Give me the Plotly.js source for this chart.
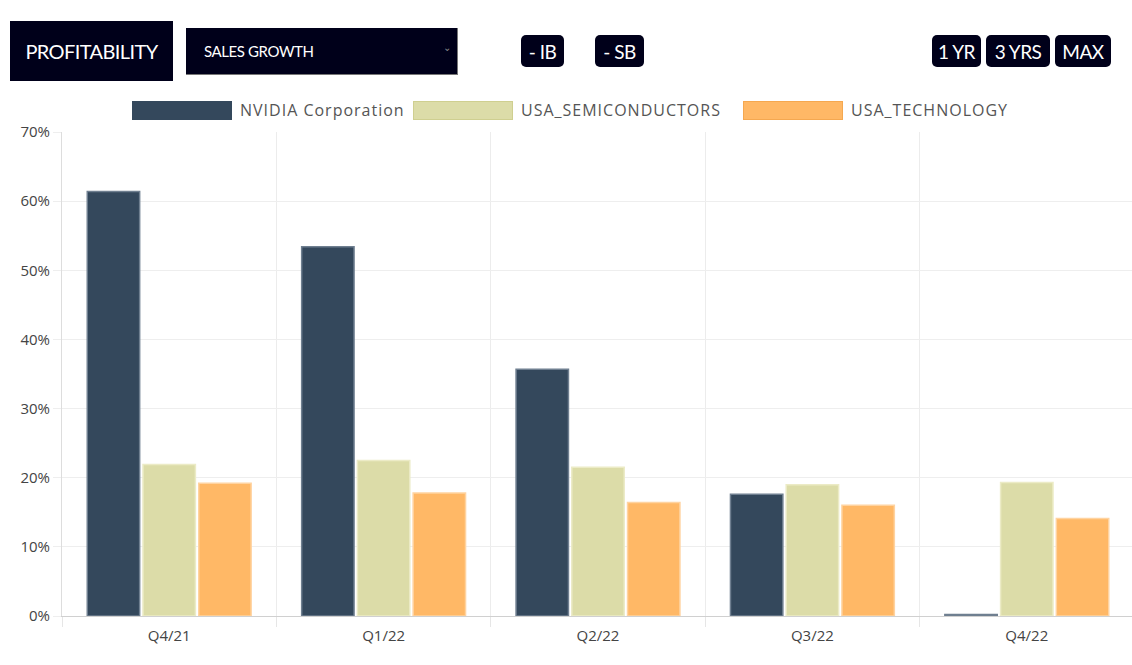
<!DOCTYPE html>
<html>
<head>
<meta charset="utf-8">
<script src="https://cdn.plot.ly/plotly-3.0.1.min.js"></script>
<style>
  html, body { margin: 0; padding: 0; width: 1132px; height: 665px; overflow: hidden; background: #fff; font-family: Lato, "Open Sans", sans-serif; }
  .btn { position: absolute; background: #00001a; color: #fff; display: flex; align-items: center; justify-content: center; font-family: Lato, sans-serif; z-index: 5; }
  .pill { border-radius: 5px; font-size: 19px; top: 35px; height: 32px; letter-spacing: -0.5px; }
  #legend { position: absolute; top: 100px; left: 0; width: 1132px; height: 22px; z-index: 5; }
  .lg-sw { position: absolute; top: 1px; width: 98px; height: 17px; }
  .lg-tx { position: absolute; top: 0px; font-family: "Open Sans", sans-serif; font-size: 16px; letter-spacing: 1px; color: #555; line-height: 20px; white-space: nowrap; }
  #chart { position: absolute; left: 0; top: 90px; width: 1134px; height: 575px; z-index: 1; }
</style>
</head>
<body>
<div id="chart"></div>
<div class="btn" style="left:10px;top:21px;width:163px;height:60px;font-size:20px;letter-spacing:-0.6px;">PROFITABILITY</div>
<div class="btn" style="left:186px;top:28px;width:271px;height:46px;border-right:1px solid #777;border-bottom:1px solid #777;justify-content:flex-start;font-size:15px;letter-spacing:-0.4px;">
  <span style="margin-left:18px;">SALES GROWTH</span>
  <span style="position:absolute;right:6px;top:13px;font-size:10px;color:#888;">&#8964;</span>
</div>
<div class="btn pill" style="left:521px;width:43px;">- IB</div>
<div class="btn pill" style="left:595px;width:49px;">- SB</div>
<div class="btn pill" style="left:932px;width:49px;">1 YR</div>
<div class="btn pill" style="left:986px;width:64px;">3 YRS</div>
<div class="btn pill" style="left:1055px;width:56px;">MAX</div>
<div id="legend"></div>
<script>
const categories = ["Q4/21", "Q1/22", "Q2/22", "Q3/22", "Q4/22"];
const seriesNames = ["NVIDIA Corporation", "USA_SEMICONDUCTORS", "USA_TECHNOLOGY"];
const nvidia = [61.4, 53.4, 35.7, 17.6, 0.2];
const semiconductors = [21.9, 22.5, 21.5, 19.0, 19.3];
const technology = [19.2, 17.8, 16.4, 16.0, 14.1];
const yTicks = [0, 10, 20, 30, 40, 50, 60, 70];

const fills = ["#34485c", "#dcdca8", "#ffb866"];
const lines = ["#6f7f90", "#ecebc6", "#ffd3a0"];
const legendBorders = ["#34485c", "#cfcf90", "#f5a850"];
const values = [nvidia, semiconductors, technology];

const traces = values.map((v, i) => ({
  type: "bar",
  name: seriesNames[i],
  x: categories,
  y: v,
  marker: { color: fills[i], line: { color: lines[i], width: 1.5 } },
  hoverinfo: "x+y+name"
}));

// legend
const legendPos = [[132, 240], [413, 521], [743, 851]];
const lg = document.getElementById("legend");
seriesNames.forEach((n, i) => {
  const sw = document.createElement("div");
  sw.className = "lg-sw";
  sw.style.left = legendPos[i][0] + "px";
  sw.style.background = fills[i];
  sw.style.border = "1px solid " + legendBorders[i];
  lg.appendChild(sw);
  const tx = document.createElement("div");
  tx.className = "lg-tx";
  tx.style.left = legendPos[i][1] + "px";
  tx.textContent = n;
  lg.appendChild(tx);
});

const layout = {
  width: 1134, height: 575,
  margin: { l: 62, r: 0, t: 42, b: 49 },
  barmode: "group",
  bargap: 0.22,
  bargroupgap: 0.06,
  showlegend: false,
  paper_bgcolor: "rgba(0,0,0,0)",
  plot_bgcolor: "#fff",
  font: { family: "Open Sans, sans-serif", color: "#444", size: 14 },
  xaxis: {
    type: "category",
    tickson: "boundaries",
    ticks: "outside",
    ticklen: 10,
    tickcolor: "#e6e6e6",
    showgrid: true,
    gridcolor: "#ececec",
    showline: true,
    linecolor: "#d0d0d0",
    ticklabelstandoff: 6,
    tickfont: { size: 15, color: "#444" }
  },
  yaxis: {
    range: [0, 70],
    tickvals: yTicks,
    ticktext: yTicks.map(t => t + "%"),
    ticks: "outside",
    ticklen: 8,
    tickcolor: "#eeeeee",
    gridcolor: "#eeeeee",
    showline: true,
    linecolor: "#dddddd",
    zeroline: false,
    tickfont: { size: 15, color: "#444" }
  }
};

Plotly.newPlot("chart", traces, layout, { displayModeBar: false });
</script>
</body>
</html>
